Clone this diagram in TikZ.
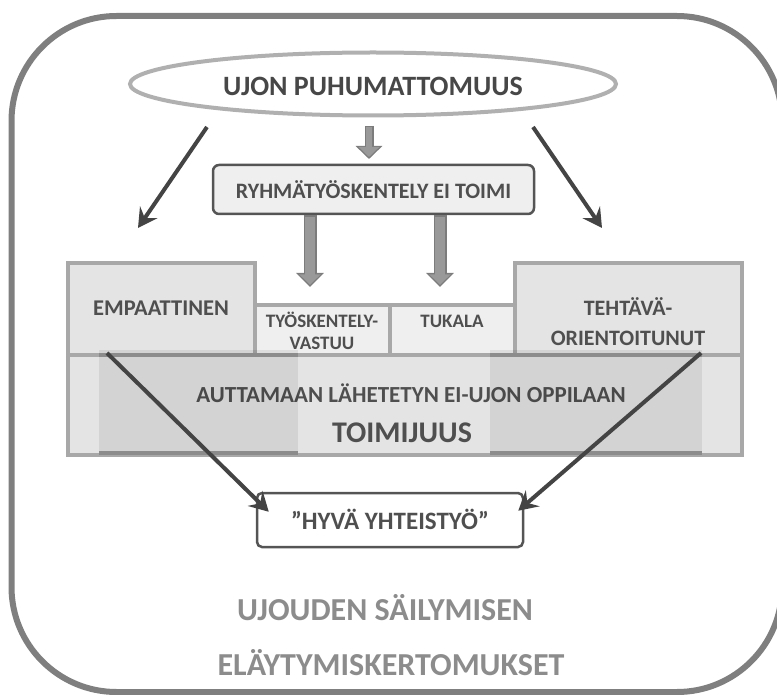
\documentclass[tikz,border=0pt]{standalone}
\usepackage{fontspec}
\setmainfont{Carlito}
\usetikzlibrary{shapes.geometric,arrows.meta}
\definecolor{frame}{HTML}{7F7F7F}
\definecolor{ellline}{HTML}{B0B0B0}
\definecolor{txt}{HTML}{4F4F4F}
\definecolor{boxline}{HTML}{A8A8A8}
\definecolor{boxfill}{HTML}{E4E4E4}
\definecolor{midfill}{HTML}{EFEFEF}
\definecolor{darkline}{HTML}{555555}
\definecolor{arrowdark}{HTML}{444444}
\definecolor{blockout}{HTML}{7C7C7C}
\definecolor{blockin}{HTML}{999999}
\definecolor{title}{HTML}{8C8C8C}
\tikzset{
  lbl/.style={font=\bfseries, text=txt, align=center, inner sep=0pt},
  panel/.style={draw=boxline, line width=4pt, fill=boxfill},
  midpanel/.style={draw=boxline, line width=4pt, fill=midfill},
  thinarrow/.style={draw=arrowdark, line width=4pt,
    -{Stealth[length=19pt,width=21pt,inset=7pt]}},
}
\begin{document}
\begin{tikzpicture}[x=1pt,y=-1pt]
\useasboundingbox (0,0) rectangle (777,695);
\clip (0,0) rectangle (777,695);

% outer rounded frame
\draw[frame, line width=6pt, rounded corners=105pt] (11.5,16) rectangle (782,692);

% top ellipse
\node[ellipse, draw=ellline, line width=4pt, fill=white,
      minimum width=486pt, minimum height=63pt, inner sep=0pt] (ujon) at (373,84) {};
\node[lbl, text=black!72, font=\bfseries\fontsize{28}{30}\selectfont] (ujontxt) at (373,86) {UJON PUHUMATTOMUUS};

% group work box
\node[draw=darkline, line width=2.5pt, fill=midfill, rounded corners=6pt,
      minimum width=321pt, minimum height=49pt, inner sep=0pt] (ryhma) at (373.5,189.5) {};
\node[lbl, font=\bfseries\fontsize{22}{24}\selectfont] (ryhmatxt) at (373.5,190) {RYHMÄTYÖSKENTELY EI TOIMI};

% small block arrow from ellipse to group work box
\coordinate (s0) at (369,126);
\coordinate (s1) at (369,159);
\draw[line width=9pt, blockout, -{Triangle[width=26pt,length=13pt]}] (s0) -- (s1);
\draw[line width=6pt, blockin, shorten >=2pt, -{Triangle[width=20pt,length=10pt]}] (369,127.5) -- (s1);

% two block arrows from group work box
\coordinate (b1) at (310,287);
\coordinate (b2) at (440,287);
\foreach \c in {b1,b2}{
  \draw[line width=13pt, blockout, -{Triangle[width=27pt,length=14pt]}] (ryhma.south -| \c) -- (\c);
  \draw[line width=9.5pt, blockin, shorten >=2.2pt, -{Triangle[width=21pt,length=10.5pt]}]
    ([yshift=-2pt]ryhma.south -| \c) -- (\c);
}

% lower large panel
\node[panel, minimum width=674pt, minimum height=100pt, inner sep=0pt] (toim) at (405,405) {};
% upper panels
\node[panel, minimum width=187pt, minimum height=92pt, inner sep=0pt] (emp) at (161.5,309) {};
\node[panel, minimum width=227pt, minimum height=92pt, inner sep=0pt] (teh) at (628.5,309) {};
\node[midpanel, minimum width=135pt, minimum height=50pt, inner sep=0pt] (tyo) at (322.5,330) {};
\node[midpanel, minimum width=125pt, minimum height=50pt, inner sep=0pt] (tuk) at (452.5,330) {};

\node[lbl, font=\bfseries\fontsize{22.5}{26}\selectfont] (emptxt) at (161,308) {EMPAATTINEN};
\node[lbl, font=\bfseries\fontsize{22}{30}\selectfont] (tehtxt) at (628,322) {TEHTÄVÄ-\\ORIENTOITUNUT};
\node[lbl, font=\bfseries\fontsize{19}{22}\selectfont] (tyotxt) at (322,331) {TYÖSKENTELY-\\VASTUU};
\node[lbl, font=\bfseries\fontsize{19}{22}\selectfont] (tuktxt) at (452,321) {TUKALA};

\node[lbl, font=\bfseries\fontsize{23}{26}\selectfont] (autt) at (411,393) {AUTTAMAAN LÄHETETYN EI-UJON OPPILAAN};
\node[lbl, font=\bfseries\fontsize{30}{34}\selectfont] (toimtxt) at (402,433) {TOIMIJUUS};

% shaded side sections of the lower panel
\foreach \xa/\xb in {99/298, 490/702}{
  \fill[black, opacity=0.075] (\xa,350) rectangle (\xb,455);
  \draw[color=black!45, line width=4pt] (\xa,355) -- (\xb,355);
  \draw[color=black!45, line width=4pt] (\xa,453) -- (\xb,453);
}

% result box
\node[draw=darkline, line width=2.5pt, fill=white, rounded corners=5pt,
      minimum width=266pt, minimum height=54pt, inner sep=0pt] (hyva) at (390,520) {};
\node[lbl, font=\bfseries\fontsize{25}{28}\selectfont] (hyvatxt) at (390,519) {”HYVÄ YHTEISTYÖ”};

% diagonal arrows
\coordinate (d1a) at (207,127);
\coordinate (d1b) at (138,228);
\coordinate (d2a) at (533,127);
\coordinate (d2b) at (602,228);
\draw[thinarrow] (d1a) -- (d1b);
\draw[thinarrow] (d2a) -- (d2b);

\coordinate (l1) at (107,353);
\coordinate (l2) at (701,353);
\draw[thinarrow] (l1) -- ([xshift=13pt,yshift=-20pt]hyva.north west);
\draw[thinarrow] (l2) -- ([xshift=-6pt,yshift=-19pt]hyva.north east);

% bottom caption
\node[lbl, text=title, font=\bfseries\fontsize{32}{36}\selectfont] (cap1) at (385,608) {UJOUDEN SÄILYMISEN};
\node[lbl, text=title, font=\bfseries\fontsize{32}{36}\selectfont] (cap2) at (391,663) {ELÄYTYMISKERTOMUKSET};
\end{tikzpicture}
\end{document}
